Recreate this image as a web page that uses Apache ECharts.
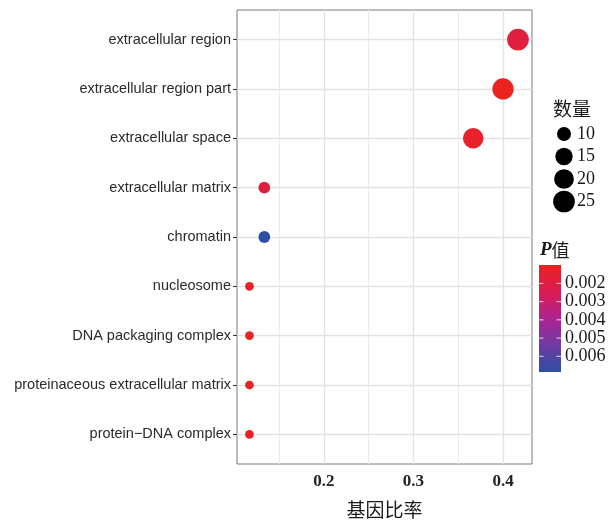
<!DOCTYPE html>
<html><head><meta charset="utf-8">
<script src="https://cdn.jsdelivr.net/npm/echarts@6/dist/echarts.min.js"></script>
<style>html,body{margin:0;padding:0;background:#fff}#c{width:609px;height:520px}</style>
</head><body><div id="c"></div>
<script>
const categories = ['extracellular region','extracellular region part','extracellular space','extracellular matrix','chromatin','nucleosome','DNA packaging complex','proteinaceous extracellular matrix','protein\u2212DNA complex'];
const geneRatio = [0.4167,0.4,0.3667,0.1333,0.1333,0.1167,0.1167,0.1167,0.1167];
const counts = [25,24,22,8,8,7,7,7,7];
const pValues = [0.0019,0.00099,0.0013,0.0019,0.00686,0.0011,0.00105,0.0011,0.0011];
const xTicks = [0.2,0.3,0.4];
const xMinorTicks = [0.15,0.25,0.35];
const sizeLegendValues = [10,15,20,25];
const colorLegendTicks = [0.002,0.003,0.004,0.005,0.006];

const P_MIN = Math.min(...pValues), P_MAX = Math.max(...pValues);
const gradColors = ['#ea2320','#da1c52','#ad2390','#6f3aa4','#2b4fa2'];
const cMin = Math.min(...counts), cMax = Math.max(...counts);
function dotSize(v){ return 8.7 + 13*Math.sqrt(Math.max(0,(v-cMin))/(cMax-cMin)); }
const SERIF = '"Liberation Serif","Times New Roman",serif';
const CJK = '"Noto Sans CJK SC",sans-serif';

const catIdx = categories.map((c,i)=>i);
const data = categories.map((c,i)=>[geneRatio[i], i, counts[i], pValues[i]]);

const gridLines = [];
xMinorTicks.forEach(v=>gridLines.push({xAxis:v, lineStyle:{color:'#ebebeb', width:1, type:'solid'}}));
xTicks.forEach(v=>gridLines.push({xAxis:v, lineStyle:{color:'#e2e2e2', width:1.3, type:'solid'}}));
catIdx.forEach(v=>gridLines.push({yAxis:v, lineStyle:{color:'#e2e2e2', width:1.3, type:'solid'}}));

// legends
const graphics = [];
graphics.push({type:'text', left:553, top:99, style:{text:'数量', font:'19px '+CJK, fill:'#1a1a1a'}});
const sizeY0 = 134, sizeDy = 22.5;
sizeLegendValues.forEach((v,k)=>{
  const r = dotSize(v)/2;
  graphics.push({type:'circle', shape:{cx:564, cy:sizeY0+k*sizeDy, r:r}, style:{fill:'#000'}});
  graphics.push({type:'text', x:577, y:sizeY0+k*sizeDy, style:{text:String(v), font:'18px '+SERIF, fill:'#1a1a1a', verticalAlign:'middle', align:'left'}});
});
graphics.push({type:'text', x:540, y:250, style:{
  text:'{a|P}{b|值}', verticalAlign:'middle',
  rich:{a:{fontFamily:SERIF, fontStyle:'italic', fontWeight:'bold', fontSize:19, fill:'#1a1a1a'},
        b:{fontFamily:CJK, fontSize:18, fill:'#1a1a1a'}}}});
const cbX=539, cbW=22, cbY=265, cbH=107;
graphics.push({type:'rect', shape:{x:cbX, y:cbY, width:cbW, height:cbH},
  style:{fill:new echarts.graphic.LinearGradient(0,0,0,1, gradColors.map((c,i)=>({offset:i/(gradColors.length-1), color:c})))}});
colorLegendTicks.forEach(v=>{
  const y = cbY + (v-P_MIN)/(P_MAX-P_MIN)*cbH;
  graphics.push({type:'line', shape:{x1:cbX, y1:y, x2:cbX+4.5, y2:y}, style:{stroke:'rgba(255,255,255,0.8)', lineWidth:1}});
  graphics.push({type:'line', shape:{x1:cbX+cbW-4.5, y1:y, x2:cbX+cbW, y2:y}, style:{stroke:'rgba(255,255,255,0.8)', lineWidth:1}});
  graphics.push({type:'text', x:565, y:y, style:{text:v.toFixed(3), font:'18px '+SERIF, fill:'#1a1a1a', verticalAlign:'middle'}});
});

const chart = echarts.init(document.getElementById('c'), null, {renderer:'canvas'});
chart.setOption({
  animation:false,
  backgroundColor:'#fff',
  grid:{left:237, right:77, top:10, bottom:56, containLabel:false, outerBoundsMode:'none', show:true, borderColor:'#7a7a7a', borderWidth:1, backgroundColor:'#fff'},
  xAxis:{type:'value', min:0.1028, max:0.4324, splitLine:{show:false},
    axisLine:{show:false},
    axisTick:{show:true, customValues:xTicks, length:4, lineStyle:{color:'#333'}},
    axisLabel:{customValues:xTicks, formatter:v=>v.toFixed(1), margin:9, fontFamily:SERIF, fontWeight:'bold', fontSize:17, color:'#222'},
    name:'基因比率', nameLocation:'middle', nameGap:36, nameTextStyle:{fontFamily:CJK, fontSize:19, color:'#1a1a1a'}},
  yAxis:{type:'value', min:-0.6, max:8.6, inverse:true, splitLine:{show:false},
    axisLine:{show:false},
    axisTick:{show:true, customValues:catIdx, length:4, lineStyle:{color:'#333'}},
    axisLabel:{customValues:catIdx, formatter:v=>categories[Math.round(v)], margin:6, fontFamily:'"Liberation Sans",Arial,sans-serif', fontSize:14.5, color:'#2a2a2a'}},
  visualMap:{show:false, type:'continuous', dimension:3, min:P_MIN, max:P_MAX, seriesIndex:0, inRange:{color:gradColors}},
  series:[{type:'scatter', z:2, data:data, symbolSize:v=>dotSize(v[2]), itemStyle:{opacity:1},
    markLine:{silent:true, z:1, symbol:['none','none'], label:{show:false}, data:gridLines}}],
  graphic:graphics
});
</script></body></html>
